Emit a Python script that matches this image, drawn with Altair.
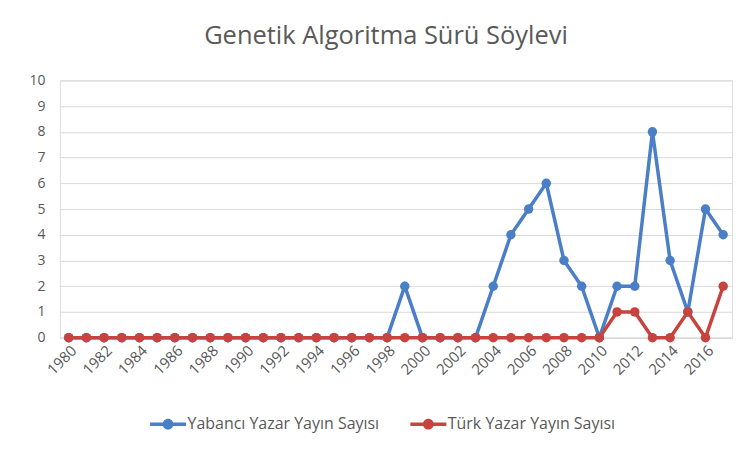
import altair as alt
import pandas as pd

years = list(range(1980, 2018))
yabanci = [0]*19 + [2, 0, 0, 0, 0, 2, 4, 5, 6, 3, 2, 0, 2, 2, 8, 3, 1, 5, 4]
turk = [0]*31 + [1, 1, 0, 0, 1, 0, 2]
series_names = ["Yabancı Yazar Yayın Sayısı", "Türk Yazar Yayın Sayısı"]
colors = ["#4A7EC7", "#C8423E"]
title = "Genetik Algoritma Sürü Söylevi"

rows = []
for name, vals in zip(series_names, [yabanci, turk]):
    for y, v in zip(years, vals):
        rows.append({"Yıl": y, "Değer": v, "Seri": name})
df = pd.DataFrame(rows)

FONT = "Open Sans"
GRAY = "#595959"

x = alt.X("Yıl:O", sort=years,
          scale=alt.Scale(type="point", padding=0.5),
          axis=alt.Axis(values=years[::2], labelAngle=-45, title=None,
                        labelColor=GRAY, labelFontSize=15, labelFont=FONT,
                        tickSize=0, domainColor="#d9d9d9", grid=False, labelPadding=5))
y = alt.Y("Değer:Q", scale=alt.Scale(domain=[0, 10]),
          axis=alt.Axis(values=list(range(0, 11)), title=None, tickSize=0,
                        labelColor=GRAY, labelFontSize=14, labelFont=FONT,
                        gridColor="#d9d9d9", domain=False, labelPadding=15))
color = alt.Color("Seri:N", scale=alt.Scale(domain=series_names, range=colors),
                  sort=series_names,
                  legend=alt.Legend(orient="none", legendX=90, legendY=326,
                                    direction="horizontal", title=None,
                                    labelColor=GRAY, labelFontSize=16, labelFont=FONT,
                                    labelLimit=400,
                                    symbolType="M-1,-0.1L-0.28,-0.1L-0.28,0.1L-1,0.1Z M0.28,-0.1L1,-0.1L1,0.1L0.28,0.1Z M0.3,0A0.3,0.3 0 1,1 -0.3,0A0.3,0.3 0 1,1 0.3,0Z",
                                    symbolSize=1300, symbolStrokeWidth=0,
                                    labelOffset=1, columnPadding=30))

base = alt.Chart(df)
line = base.mark_line(strokeWidth=3.5).encode(x=x, y=y, color=color)
pts = base.mark_circle(size=90, opacity=1).encode(x=x, y=y, color=color)

chart = alt.layer(line, pts).properties(
    width=674, height=258,
    title=alt.TitleParams(title, fontSize=25.5, font=FONT, color=GRAY, fontWeight="normal",
                          anchor="middle", offset=24, dx=-10),
    padding={"left": 20, "top": 15, "right": 10, "bottom": 5},
).configure_view(stroke=None).configure(background="white")

chart.save("out.html", embed_options={"renderer": "svg", "actions": False})
